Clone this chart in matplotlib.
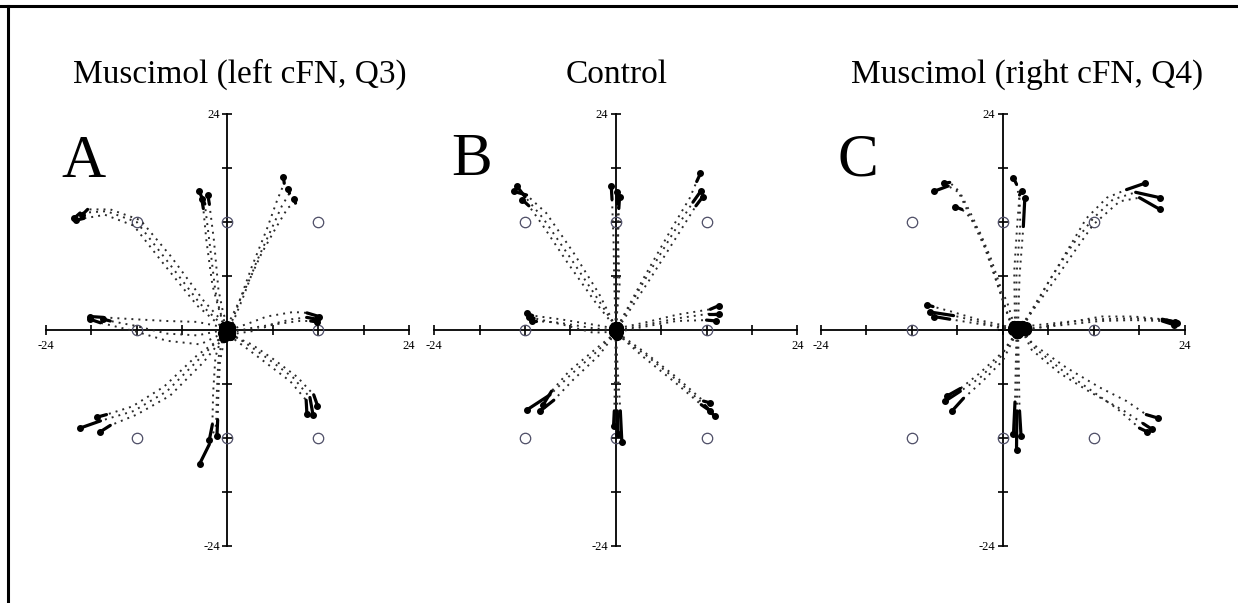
import numpy as np
import matplotlib
matplotlib.use("Agg")
import matplotlib.pyplot as plt
from matplotlib.lines import Line2D

plt.rcParams['font.family'] = ['Liberation Serif', 'DejaVu Serif']

# ---------------- data ----------------
titles = ["Muscimol (left cFN, Q3)", "Control", "Muscimol (right cFN, Q4)"]
panel_letters = ["A", "B", "C"]
tick_values = [-24, -18, -12, -6, 0, 6, 12, 18, 24]
targets_x = [12, 12, 0, -12, -12, -12, 0, 12]
targets_y = [0, 12, 12, 12, 0, -12, -12, -12]

# Panel A: muscimol left cFN (each trace = (x list, y list))
traces_A = [
    ([0, -3.6, -8, -12, -16, -19.5, -20.3], [0, 2.9, 7.7, 12, 13.2, 13.0, 12.4]),
    ([0, -3.2, -7.5, -11.5, -15.5, -18.5, -19.2], [0.3, 3.3, 8.2, 12.2, 13.4, 13.4, 12.8]),
    ([-0.3, -4, -8.5, -12.4, -16.2, -19, -20], [0, 2.7, 7.4, 11.6, 12.8, 12.4, 12.2]),
    ([0, -1, -1.6, -2.4, -3.0, -3.8], [0.3, 2, 4.3, 9.9, 14.0, 15.5]),
    ([0.2, -0.6, -1.2, -1.8, -2.4, -2.6], [0, 2, 4.5, 10, 14, 15.0]),
    ([-0.3, -1.2, -2, -2.8, -3.2, -3.4], [0, 2.5, 5, 10, 13.5, 14.6]),
    ([0.3, 1.5, 3.2, 5.2, 6.6, 7.5, 7.4], [0.3, 3, 7, 11.2, 14.5, 16.3, 17.0]),
    ([0.3, 2, 3.8, 5.8, 7.2, 8.2, 8.0], [0, 3.5, 7.5, 11.2, 13.8, 15.2, 15.7]),
    ([0, 2.3, 4.5, 6.5, 8, 9, 8.8], [0.5, 4.5, 8.5, 11.5, 13.6, 14.1, 14.6]),
    ([0.3, 3, 5.2, 8.7, 10.5, 12.1], [0, 0.8, 1.5, 2.0, 1.9, 1.5]),
    ([0.3, 3, 5.2, 8.5, 10.5, 11.8], [-0.3, 0.2, 0.5, 1.2, 1.4, 1.2]),
    ([0.3, 3.5, 6, 9.5, 11, 11.9], [-0.5, -0.1, 0.6, 1.0, 1.0, 0.9]),
    ([0.3, 3, 5.2, 8.7, 10.9, 11.3], [-0.3, -1.8, -3.1, -5.3, -7.5, -9.4]),
    ([0.3, 3.2, 6, 9.2, 11.4, 11.9], [-0.5, -1.6, -3.2, -5.2, -7.2, -8.4]),
    ([0.2, 2.8, 5.0, 8.3, 10.4, 10.5], [-0.6, -2.2, -3.6, -5.7, -7.8, -9.3]),
    ([-0.5, -1.2, -1.4, -1.5, -2.4, -3.7], [-0.5, -3.1, -6.8, -10.5, -12.7, -14.9]),
    ([-0.3, -1.0, -1.2, -1.3, -1.4], [-0.5, -3.5, -7, -10, -11.8]),
    ([-0.6, -1.6, -1.9, -2, -2.4], [-0.3, -3, -7, -10.5, -12.2]),
    ([-0.5, -3.6, -8, -12.4, -16.8, -19.5], [-0.5, -3.1, -6.8, -9.0, -10.1, -10.9]),
    ([-0.5, -3.2, -7.6, -12, -15.5, -16.8], [-0.8, -3.6, -7.3, -9.4, -10.6, -11.3]),
    ([-0.3, -4, -8.4, -12.6, -16, -17.3], [-0.6, -2.8, -6.3, -8.5, -9.4, -9.7]),
    ([-0.5, -4, -8, -12.4, -16.4, -18.2], [0.3, 0.9, 1.0, 1.2, 1.4, 1.5]),
    ([-0.5, -3.6, -8, -12.4, -16.8, -18.2], [-0.3, -1.6, -1.2, -0.1, 0.8, 1.2]),
    ([-0.5, -4, -8, -12.4, -15.5, -16.4], [0, -0.6, -0.4, 0.5, 1.0, 1.2]),
]

# Panel B: control
traces_B = [
    ([0, -2.5, -6, -9.6, -12, -13.1], [0.3, 3.6, 8, 12.4, 14.8, 16.0]),
    ([0, -2.2, -5.6, -9.2, -11.8, -13.5], [0.3, 4.0, 8.6, 13, 15, 15.4]),
    ([0.2, -2.8, -6.4, -9.8, -11.5, -12.4], [0, 3.2, 7.5, 11.8, 13.8, 14.5]),
    ([0, -0.2, -0.3, -0.5, -0.6], [0.3, 5, 10, 14.5, 16]),
    ([0.1, 0.2, 0.3, 0.4, 0.5], [0.3, 5, 10, 13.5, 14.8]),
    ([0, 0.5, 0.3, 0.2, 0.1], [0.3, 5, 10, 14, 15.3]),
    ([0.2, 3.7, 7.2, 9.8, 10.7, 11.2], [0.3, 5.8, 11, 14.7, 16.5, 17.4]),
    ([0.2, 4, 7.6, 10.2, 11.3], [0.3, 5.8, 10.8, 14.2, 15.5]),
    ([0.3, 4.4, 8, 10.6, 11.5], [0.2, 5.5, 10.3, 13.8, 14.8]),
    ([0.3, 3.7, 8.1, 12.5, 13.6], [0.2, 0.8, 1.7, 2.3, 2.7]),
    ([0.3, 4, 8.2, 12.3, 13.6], [0, 0.6, 1.3, 1.8, 1.8]),
    ([0.3, 4, 8, 12, 13.3], [-0.2, 0.4, 1.0, 1.1, 1.0]),
    ([0.2, 3.7, 8.1, 11.6, 12.5], [-0.3, -2.4, -5.3, -7.9, -8.1]),
    ([0.2, 4, 8.4, 11.8, 13.1], [-0.5, -2.8, -5.8, -8.4, -9.6]),
    ([0.2, 3.5, 7.8, 11.3, 12.5], [-0.4, -2.9, -5.8, -8.3, -9.0]),
    ([0, -0.1, -0.2, -0.3], [-0.3, -5, -9, -10.7]),
    ([0, 0.3, 0.6, 0.8], [-0.3, -5, -9, -12.4]),
    ([0, 0.1, 0.2, 0.3], [-0.3, -5, -9, -11.5]),
    ([0, -2.5, -6, -8.7, -11.8], [-0.3, -2.4, -5, -7.2, -8.9]),
    ([0, -2.2, -5.6, -8.2, -10], [-0.3, -2.8, -5.5, -7.8, -9]),
    ([0, -2.8, -6.2, -8.5, -9.6], [-0.3, -2.2, -4.6, -6.8, -8.3]),
    ([-0.3, -3, -7.4, -11, -11.8], [0.2, 0.6, 1.2, 1.6, 1.9]),
    ([-0.3, -3, -7.4, -10.5, -11.1], [0, 0.2, 0.8, 1.0, 1.0]),
    ([-0.3, -3, -7, -10.8, -11.5], [-0.2, -0.3, 0.6, 1.3, 1.5]),
]

# Panel C: muscimol right cFN
traces_C = [
    ([1.5, 0.9, -0.4, -2.1, -3.9, -5.6, -7.2, -9.1], [0.5, 1.0, 4.3, 8.7, 12.4, 15.2, 16.0, 15.4]),
    ([1.5, 0.8, -0.6, -2.4, -4.4, -6.0, -7.0, -7.8], [0.5, 1.4, 4.8, 9.2, 12.8, 15.6, 16.4, 16.3]),
    ([1.5, 0.6, -0.2, -1.6, -3.0, -4.3, -5.4, -6.3], [0.5, 3, 4.5, 8.0, 10.8, 12.5, 13.4, 13.7]),
    ([1.8, 1.8, 2.3, 2.2, 1.8, 1.4], [0.5, 6.1, 11.7, 14.5, 16.2, 16.9]),
    ([2.0, 2.2, 2.7, 2.9], [0.5, 6, 11.5, 14.7]),
    ([1.6, 1.5, 1.9, 2.2, 2.5], [0.5, 6.5, 11.8, 15, 15.5]),
    ([2.5, 3.1, 5.8, 8.4, 11.0, 13.7, 16.3, 18.7], [0.5, 1.0, 5.0, 8.7, 12.4, 14.7, 15.6, 16.3]),
    ([2.5, 3.5, 6.2, 9.2, 11.9, 14.5, 17.5, 20.7], [0.5, 1.8, 5.6, 9.5, 12.4, 14.5, 15.3, 14.7]),
    ([2.5, 3.8, 6.8, 9.5, 11.9, 15.4, 18.0, 20.7], [0.5, 2.0, 5.5, 8.8, 11.7, 14.3, 14.7, 13.4]),
    ([3, 4, 8.4, 12.8, 17.2, 21.6, 22.9], [0.3, 0.5, 0.9, 1.2, 1.3, 1.1, 0.8]),
    ([3, 4, 8.4, 12.8, 17.2, 21.0, 22.5], [0.1, 0.2, 0.6, 1.0, 1.1, 1.0, 0.6]),
    ([3, 5, 9, 13, 17.2, 21, 22.7], [0, 0.3, 0.9, 1.5, 1.5, 1.2, 0.9]),
    ([2.5, 4, 8.4, 12.8, 16.3, 18.9, 20.5], [0, -1.6, -4.2, -6.4, -7.9, -9.4, -9.8]),
    ([2.5, 4.2, 8.0, 10.6, 15, 18.0, 19.0], [0, -2.0, -4.6, -6.1, -8.7, -10.9, -11.3]),
    ([2.5, 3.8, 7.5, 11.5, 15.8, 18.5, 19.6], [0, -2.2, -4.8, -6.9, -8.9, -10.4, -11.0]),
    ([1.8, 1.7, 1.6, 1.4], [-0.3, -4, -8, -11.6]),
    ([1.9, 1.9, 1.85, 1.8], [-0.3, -4, -9, -13.3]),
    ([2.0, 2.1, 2.2, 2.4], [-0.3, -4, -9, -11.8]),
    ([1.8, -0.4, -3.0, -5.6, -7.6], [-0.3, -3.1, -5.3, -6.8, -7.9]),
    ([1.8, 0, -2.8, -5.2, -6.7], [-0.3, -3.4, -5.8, -7.6, -9.0]),
    ([1.8, -0.2, -3.2, -5.6, -7.3], [-0.3, -2.6, -4.9, -6.5, -7.3]),
    ([1.3, -0.4, -2.6, -7.0, -9.2, -10.0], [0.2, 0.6, 1.0, 2.1, 2.6, 2.8]),
    ([1.3, -0.4, -2.6, -7.0, -9.1], [0, 0.4, 0.6, 1.2, 1.5]),
    ([1.3, -0.4, -2.6, -6.5, -9.6], [0.1, 0.2, 0.8, 1.6, 2.0]),
]

all_traces = [traces_A, traces_B, traces_C]

# ---------------- layout ----------------
W, H = 1238, 603
fig = plt.figure(figsize=(W / 100, H / 100), dpi=100)
fig.patch.set_facecolor('white')

axes_px = [(46, 409), (434.3, 797.3), (820.7, 1185)]
y_top_px, y_bot_px = 114, 546
title_cx = [240, 617, 1027]
letter_px = [(61, 177), (451, 175), (837, 176)]

for i, (x0, x1) in enumerate(axes_px):
    ax = fig.add_axes([x0 / W, 1 - y_bot_px / H, (x1 - x0) / W, (y_bot_px - y_top_px) / H])
    ax.set_xlim(-24, 24)
    ax.set_ylim(-24, 24)
    ax.patch.set_alpha(0)
    for s in ['top', 'right']:
        ax.spines[s].set_visible(False)
    for s in ['left', 'bottom']:
        ax.spines[s].set_position(('data', 0))
        ax.spines[s].set_linewidth(1.3)
        ax.spines[s].set_zorder(1)
    ax.set_xticks(tick_values)
    ax.set_yticks(tick_values)
    lab = [str(v) if abs(v) == 24 else '' for v in tick_values]
    ax.set_xticklabels(lab)
    ax.set_yticklabels(lab)
    ax.tick_params(axis='both', direction='inout', length=7, width=1.2,
                   labelsize=9, colors='black')
    ax.tick_params(axis='x', pad=4)
    ax.tick_params(axis='y', pad=2)

    # targets
    ax.plot(targets_x, targets_y, linestyle='none', marker='o', markersize=7.5,
            markerfacecolor='none', markeredgecolor='#4d4d66', markeredgewidth=0.9,
            zorder=2)

    # trajectories
    for xs, ys in all_traces[i]:
        ax.plot(xs, ys, linestyle=(0, (1, 2.6)), linewidth=1.4, color='#2a2a2a',
                zorder=3)
        ax.plot(xs[-2:], ys[-2:], linestyle='-', linewidth=2.3, color='black',
                solid_capstyle='round', zorder=4)
        ax.plot(xs[-1], ys[-1], marker='o', markersize=4, color='black', zorder=4)
        ax.plot(xs[0], ys[0], marker='o', markersize=7, color='black', zorder=4)

    fig.text(title_cx[i] / W, 1 - 83 / H, titles[i], ha='center', va='baseline',
             fontsize=24, color='black')
    lx, ly = letter_px[i]
    fig.text(lx / W, 1 - ly / H, panel_letters[i], ha='left', va='baseline',
             fontsize=44, color='black')

# frame (top and left)
fig.add_artist(Line2D([0, 1], [1 - 5.5 / H, 1 - 5.5 / H], transform=fig.transFigure,
                      color='black', linewidth=2.2))
fig.add_artist(Line2D([7.5 / W, 7.5 / W], [0, 1 - 5.5 / H], transform=fig.transFigure,
                      color='black', linewidth=2.2))

fig.savefig('out.png', dpi=100)
